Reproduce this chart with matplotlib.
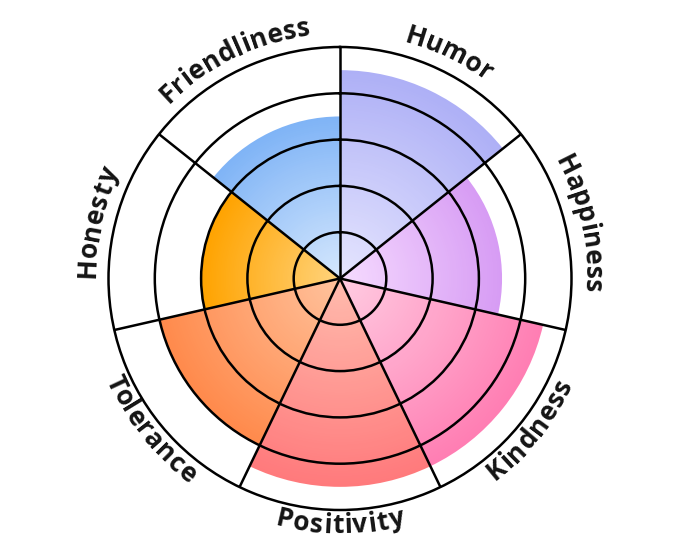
import numpy as np
import matplotlib
matplotlib.use("Agg")
import matplotlib.pyplot as plt
from matplotlib.colors import to_rgb
from matplotlib.font_manager import FontProperties

# data
categories = ["Humor", "Happiness", "Kindness", "Positivity", "Tolerance", "Honesty", "Friendliness"]
values = [4.5, 3.5, 4.5, 4.5, 4.0, 3.0, 3.5]
outer_colors = ["#aeb0f6", "#d79cf4", "#ff7eb3", "#ff7a7c", "#ff8a4c", "#ffa300", "#80b4f6"]
inner_colors = ["#e6e6fe", "#f6dcff", "#ffcde2", "#ffbcae", "#ffc39e", "#ffd47e", "#d6e8fd"]
lower_labels = ["Kindness", "Positivity", "Tolerance"]

n = len(categories)
width = 2 * np.pi / n
theta = np.arange(n) * width + width / 2

fig = plt.figure(figsize=(6.8, 5.57), dpi=100)
R_PX = 231.5
ax = fig.add_axes([(340 - R_PX) / 680, (278.5 - R_PX) / 557, 2 * R_PX / 680, 2 * R_PX / 557],
                  projection="polar")
ax.set_theta_zero_location("N")
ax.set_theta_direction(-1)
ax.set_ylim(0, 5)

# radial gradient: overlapping bars from outside in
steps = 80
for th, v, c_out, c_in in zip(theta, values, outer_colors, inner_colors):
    c_out, c_in = np.array(to_rgb(c_out)), np.array(to_rgb(c_in))
    for k in range(steps, 0, -1):
        t = k / steps
        col = c_in + (c_out - c_in) * t
        ax.bar(th, v * t, width=width, bottom=0, color=col, linewidth=0, zorder=1)

# grid
ax.set_axisbelow(False)
ax.set_rticks([1, 2, 3, 4])
ax.set_yticklabels([])
ax.set_thetagrids(np.degrees(np.arange(n) * width), labels=[])
ax.grid(True, color="black", linewidth=1.8)
ax.spines["polar"].set_linewidth(1.8)
ax.spines["polar"].set_color("black")
ax.tick_params(length=0)

# curved labels, one character at a time
fp = FontProperties(family="Open Sans", weight="bold", size=19)
renderer = fig.canvas.get_renderer()
unit = 5 / R_PX
spacing = 0.6  # extra px between letters
for th, lab in zip(theta, categories):
    widths = [renderer.get_text_width_height_descent(lab[:i], fp, ismath=False)[0] + spacing * i if i else 0
              for i in range(len(lab) + 1)]
    total = widths[-1]
    lower = lab in lower_labels
    r_base = 255 if lower else 245
    r_mid = r_base - 7 if lower else r_base + 7
    for i, ch in enumerate(lab):
        c = (widths[i] + widths[i + 1]) / 2 - total / 2
        if lower:
            a = th - c / r_mid
            rot = 180 - np.degrees(a)
        else:
            a = th + c / r_mid
            rot = -np.degrees(a)
        ax.text(a, r_base * unit, ch, fontproperties=fp, rotation=rot,
                rotation_mode="anchor", ha="center", va="baseline", color="#141414")

fig.savefig("out.png", dpi=100, facecolor="white")
